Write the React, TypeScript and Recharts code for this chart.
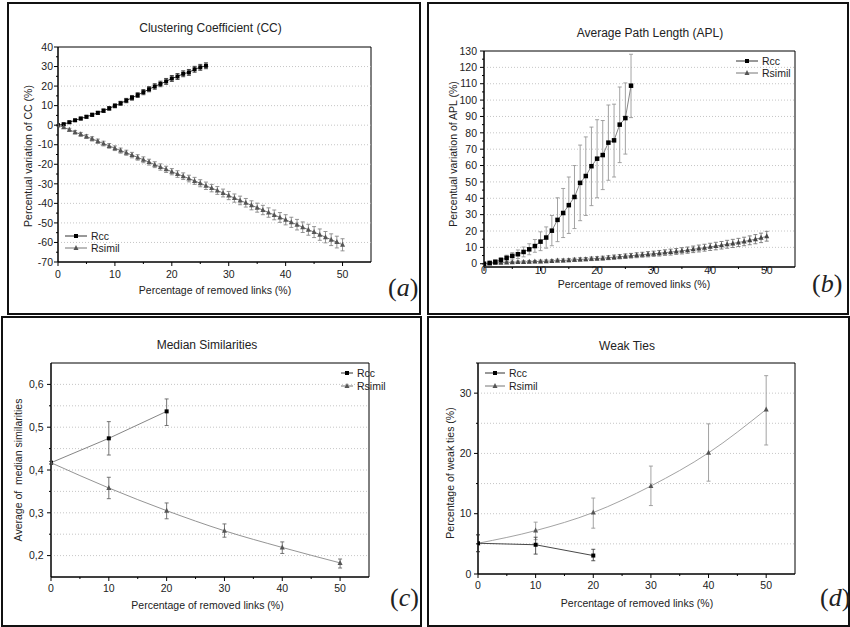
import React from 'react';
import { LineChart, Line, XAxis, YAxis, ErrorBar, ReferenceArea, ReferenceLine } from 'recharts';

// ---------- Panel (a): Clustering Coefficient ----------
const ccRccX = [0,1,2,3,4,5,6,7,8,9,10,11,12,13,14,15,16,17,18,19,20,21,22,23,24,25,26];
const ccRccY = [0,0.5,1.5,2.5,3.4,4.3,5.3,6.3,7.4,8.6,9.9,11.2,12.6,14.0,15.4,16.9,18.4,19.8,21.1,22.4,23.9,24.9,26.3,27.0,28.6,29.6,30.4];
const ccRccErr = [0.3,0.5,0.6,0.6,0.7,0.7,0.8,0.8,0.9,0.9,1.0,1.0,1.1,1.2,1.2,1.3,1.3,1.4,1.4,1.5,1.5,1.5,1.5,1.5,1.5,1.5,1.5];
const ccSimX = [0,1,2,3,4,5,6,7,8,9,10,11,12,13,14,15,16,17,18,19,20,21,22,23,24,25,26,27,28,29,30,31,32,33,34,35,36,37,38,39,40,41,42,43,44,45,46,47,48,49,50];
const ccSimY = [0,-1.0,-2.4,-3.6,-4.7,-5.8,-7.0,-8.2,-9.4,-10.6,-11.8,-13.0,-14.1,-15.3,-16.5,-17.7,-18.9,-20.2,-21.4,-22.6,-23.8,-25.0,-26.1,-27.3,-28.5,-29.7,-31.0,-32.2,-33.4,-34.7,-36.0,-37.3,-38.5,-39.7,-41.0,-42.2,-43.4,-44.7,-45.9,-47.2,-48.4,-49.7,-50.9,-52.2,-53.5,-54.7,-56.0,-57.3,-58.6,-59.8,-61.2];
const ccSimErr = [0.3,0.6,0.8,0.9,1.0,1.0,1.1,1.1,1.2,1.2,1.2,1.3,1.3,1.4,1.4,1.5,1.5,1.5,1.6,1.6,1.6,1.7,1.7,1.7,1.8,1.8,1.9,1.9,2.0,2.0,2.1,2.1,2.2,2.2,2.3,2.3,2.4,2.4,2.5,2.5,2.6,2.6,2.7,2.7,2.8,2.8,2.9,2.9,3.0,3.0,3.1];

// ---------- Panel (b): Average Path Length ----------
const aplRccX = [0,1,2,3,4,5,6,7,8,9,10,11,12,13,14,15,16,17,18,19,20,21,22,23,24,25,26];
const aplRccY = [0,0.5,1.2,2.3,3.6,4.8,5.8,7.2,8.8,10.8,13.5,16.0,20.2,26.8,31.0,35.8,40.8,49.4,53.6,59.6,64.2,66.4,74.0,75.4,85.0,89.0,108.8];
const aplRccLow = [0,0,0.3,1.0,2.0,2.8,3.2,4.2,5.5,7.0,8.0,9.5,11.0,13.5,16.0,18.5,21.5,26.3,29.5,35.5,40.3,45.3,51.0,53.0,61.8,67.0,89.3];
const aplRccHigh = [0,1.0,2.2,3.6,5.2,6.8,8.4,10.2,12.2,14.8,19.5,22.5,29.5,40.3,46.0,53.0,60.0,72.5,77.5,83.5,88.0,87.5,97.0,97.5,108.0,110.5,128.0];
const aplSimX = [0,1,2,3,4,5,6,7,8,9,10,11,12,13,14,15,16,17,18,19,20,21,22,23,24,25,26,27,28,29,30,31,32,33,34,35,36,37,38,39,40,41,42,43,44,45,46,47,48,49,50];
const aplSimY = [0,0.2,0.4,0.6,0.8,0.9,1.0,1.1,1.2,1.3,1.4,1.5,1.7,1.9,2.0,2.2,2.4,2.6,2.8,3.0,3.2,3.4,3.7,4.0,4.3,4.6,4.9,5.2,5.5,5.8,6.1,6.4,6.8,7.1,7.5,7.9,8.3,8.8,9.3,9.8,10.3,10.8,11.3,11.9,12.4,13.0,13.6,14.3,15.0,15.8,16.8];
const aplSimErr = [0.2,0.3,0.4,0.5,0.5,0.6,0.6,0.7,0.7,0.7,0.8,0.8,0.8,0.9,0.9,0.9,1.0,1.0,1.0,1.1,1.1,1.2,1.2,1.3,1.3,1.4,1.4,1.5,1.5,1.6,1.6,1.7,1.7,1.8,1.8,1.9,1.9,2.0,2.1,2.1,2.2,2.3,2.3,2.4,2.5,2.5,2.6,2.7,2.8,2.9,3.0];

// ---------- Panel (c): Median Similarities ----------
const msRccX = [0,10,20];
const msRccY = [0.417,0.474,0.537];
const msRccLow = [0.414,0.435,0.504];
const msRccHigh = [0.420,0.513,0.566];
const msSimX = [0,10,20,30,40,50];
const msSimY = [0.417,0.358,0.305,0.258,0.219,0.183];
const msSimLow = [0.414,0.333,0.286,0.243,0.205,0.171];
const msSimHigh = [0.420,0.383,0.323,0.274,0.232,0.192];

// ---------- Panel (d): Weak Ties ----------
const wtRccX = [0,10,20];
const wtRccY = [5.1,4.85,3.06];
const wtRccLow = [3.7,3.3,2.2];
const wtRccHigh = [6.5,6.1,4.1];
const wtSimX = [0,10,20,30,40,50];
const wtSimY = [5.1,7.2,10.2,14.6,20.1,27.3];
const wtSimLow = [3.7,5.7,7.6,11.35,15.4,21.4];
const wtSimHigh = [6.5,8.6,12.6,17.9,24.9,32.9];

// axis ticks
const xTicks = [0,5,10,15,20,25,30,35,40,45,50];
const ccYTicks = [-70,-65,-60,-55,-50,-45,-40,-35,-30,-25,-20,-15,-10,-5,0,5,10,15,20,25,30,35,40];
const aplYTicks = [0,5,10,15,20,25,30,35,40,45,50,55,60,65,70,75,80,85,90,95,100,105,110,115,120,125,130];
const msYTicks = [0.2,0.25,0.3,0.35,0.4,0.45,0.5,0.55,0.6];
const wtYTicks = [0,5,10,15,20,25,30,35];
const ccGrid = [-60,-50,-40,-30,-20,-10,0,10,20,30];
const aplGrid = [10,20,30,40,50,60,70,80,90,100,110,120];
const msGrid = [0.2,0.25,0.3,0.35,0.4,0.45,0.5,0.55,0.6];
const wtGrid = [5,10,15,20,25,30];

type Pt = { x: number; y: number; e: [number, number] };
const symm = (xs: number[], ys: number[], err: number[]): Pt[] =>
  xs.map((x, i) => ({ x, y: ys[i], e: [err[i], err[i]] }));
const asym = (xs: number[], ys: number[], lo: number[], hi: number[]): Pt[] =>
  xs.map((x, i) => ({ x, y: ys[i], e: [ys[i] - lo[i], hi[i] - ys[i]] }));

const FONT = '"Liberation Sans", Arial, Helvetica, sans-serif';
const TICK_FS = 10.5;

type Series = {
  key: string;
  data: Pt[];
  line: string;
  marker: 'sq' | 'tri';
  mFill: string;
  mSize: number;
  err: string;
  curve: 'linear' | 'monotone';
};

type Cfg = {
  plot: { x: number; y: number; w: number; h: number };
  xDomain: [number, number];
  yDomain: [number, number];
  yTicks: number[];
  yMajor: (v: number) => boolean;
  yFmt: (v: number) => string;
  grid: number[];
  series: Series[];
  xLabelDy: number;
  yLabelDx: number;
};

const Marker = ({ cx, cy, kind, s, fill }: any) => {
  if (cx == null || cy == null || isNaN(cx) || isNaN(cy)) return <g />;
  if (kind === 'sq') return <rect x={cx - s / 2} y={cy - s / 2} width={s} height={s} fill={fill} />;
  return (
    <polygon
      points={`${cx},${cy - s * 0.6} ${cx - s / 2},${cy + s * 0.4} ${cx + s / 2},${cy + s * 0.4}`}
      fill={fill}
    />
  );
};

const Panel = ({ cfg }: { cfg: Cfg }) => {
  const { plot } = cfg;
  const W = plot.w + 60;
  const H = plot.h + 40;
  const XTick = (p: any) => {
    const v = p.payload.value;
    const major = Math.round(v) % 10 === 0;
    return (
      <g>
        <line x1={p.x} x2={p.x} y1={p.y} y2={p.y + (major ? 4 : 2)} stroke="#000" strokeWidth={1} />
        {major && (
          <text x={p.x} y={p.y + cfg.xLabelDy} textAnchor="middle" fontSize={TICK_FS} fontFamily={FONT} fill="#222">
            {v}
          </text>
        )}
      </g>
    );
  };
  const YTick = (p: any) => {
    const v = p.payload.value;
    const major = cfg.yMajor(v);
    return (
      <g>
        <line x1={p.x - (major ? 4 : 2)} x2={p.x} y1={p.y} y2={p.y} stroke="#000" strokeWidth={1} />
        {major && (
          <text x={p.x - cfg.yLabelDx} y={p.y + 3.7} textAnchor="end" fontSize={TICK_FS} fontFamily={FONT} fill="#222">
            {cfg.yFmt(v)}
          </text>
        )}
      </g>
    );
  };
  return (
    <div style={{ position: 'absolute', left: plot.x - 50, top: plot.y - 10, width: W, height: H }}>
      <LineChart width={W} height={H} margin={{ top: 10, right: 10, bottom: 0, left: 0 }}>
        <XAxis
          type="number"
          dataKey="x"
          domain={cfg.xDomain}
          ticks={xTicks}
          interval={0}
          allowDataOverflow
          height={30}
          tickSize={0}
          tickMargin={0}
          tickLine={false}
          axisLine={{ stroke: '#000', strokeWidth: 1 }}
          tick={XTick}
        />
        <YAxis
          type="number"
          dataKey="y"
          domain={cfg.yDomain}
          ticks={cfg.yTicks}
          interval={0}
          allowDataOverflow
          width={50}
          tickSize={0}
          tickMargin={0}
          tickLine={false}
          axisLine={{ stroke: '#000', strokeWidth: 1 }}
          tick={YTick}
        />
        {cfg.grid.map((g) => (
          <ReferenceLine key={'g' + g} y={g} stroke="#b8b8b8" strokeWidth={0.8} strokeDasharray="1 2" />
        ))}
        <ReferenceArea
          x1={cfg.xDomain[0]}
          x2={cfg.xDomain[1]}
          y1={cfg.yDomain[0]}
          y2={cfg.yDomain[1]}
          fill="none"
          fillOpacity={0}
          stroke="#000"
          strokeWidth={1}
          ifOverflow="visible"
        />
        {cfg.series.map((s) => (
          <Line
            key={s.key}
            data={s.data}
            dataKey="y"
            type={s.curve}
            stroke={s.line}
            strokeWidth={0.9}
            isAnimationActive={false}
            activeDot={false}
            dot={(p: any) => (
              <Marker key={s.key + p.index} cx={p.cx} cy={p.cy} kind={s.marker} s={s.mSize} fill={s.mFill} />
            )}
          >
            <ErrorBar dataKey="e" width={2} stroke={s.err} strokeWidth={0.9} direction="y" isAnimationActive={false} />
          </Line>
        ))}
      </LineChart>
    </div>
  );
};

const intMajor = (v: number) => Math.round(v) % 10 === 0;

const cfgA: Cfg = {
  plot: { x: 58, y: 47, w: 313, h: 215 },
  xDomain: [0, 55],
  yDomain: [-70, 40],
  yTicks: ccYTicks,
  yMajor: intMajor,
  yFmt: (v) => String(v),
  grid: ccGrid,
  xLabelDy: 15.5,
  yLabelDx: 5,
  series: [
    { key: 'rcc', data: symm(ccRccX, ccRccY, ccRccErr), line: '#222', marker: 'sq', mFill: '#000', mSize: 4, err: '#333', curve: 'linear' },
    { key: 'sim', data: symm(ccSimX, ccSimY, ccSimErr), line: '#666', marker: 'tri', mFill: '#555', mSize: 5, err: '#888', curve: 'linear' },
  ],
};

const cfgB: Cfg = {
  plot: { x: 484, y: 51, w: 311, h: 216 },
  xDomain: [0, 55],
  yDomain: [-2, 130],
  yTicks: aplYTicks,
  yMajor: intMajor,
  yFmt: (v) => String(v),
  grid: aplGrid,
  xLabelDy: 7.2,
  yLabelDx: 7,
  series: [
    { key: 'sim', data: symm(aplSimX, aplSimY, aplSimErr), line: '#777', marker: 'tri', mFill: '#444', mSize: 5, err: '#777', curve: 'linear' },
    { key: 'rcc', data: asym(aplRccX, aplRccY, aplRccLow, aplRccHigh), line: '#777', marker: 'sq', mFill: '#000', mSize: 4.5, err: '#999', curve: 'linear' },
  ],
};

const cfgC: Cfg = {
  plot: { x: 51, y: 363, w: 318, h: 214 },
  xDomain: [0, 55],
  yDomain: [0.15, 0.65],
  yTicks: msYTicks,
  yMajor: (v) => Math.round(v * 100) % 10 === 0,
  yFmt: (v) => v.toFixed(1).replace('.', ','),
  grid: msGrid,
  xLabelDy: 15,
  yLabelDx: 7.4,
  series: [
    { key: 'rcc', data: asym(msRccX, msRccY, msRccLow, msRccHigh), line: '#777', marker: 'sq', mFill: '#000', mSize: 4, err: '#666', curve: 'linear' },
    { key: 'sim', data: asym(msSimX, msSimY, msSimLow, msSimHigh), line: '#888', marker: 'tri', mFill: '#555', mSize: 5, err: '#666', curve: 'monotone' },
  ],
};

const cfgD: Cfg = {
  plot: { x: 478, y: 363, w: 317, h: 211 },
  xDomain: [0, 55],
  yDomain: [0, 35],
  yTicks: wtYTicks,
  yMajor: intMajor,
  yFmt: (v) => String(v),
  grid: wtGrid,
  xLabelDy: 14.7,
  yLabelDx: 6.6,
  series: [
    { key: 'sim', data: asym(wtSimX, wtSimY, wtSimLow, wtSimHigh), line: '#999', marker: 'tri', mFill: '#555', mSize: 5, err: '#999', curve: 'monotone' },
    { key: 'rcc', data: asym(wtRccX, wtRccY, wtRccLow, wtRccHigh), line: '#333', marker: 'sq', mFill: '#000', mSize: 4, err: '#444', curve: 'linear' },
  ],
};

const LegendRow = ({ x1, x2, y, kind, lineColor, mFill, label }: any) => (
  <g>
    <line x1={x1} x2={x2} y1={y} y2={y} stroke={lineColor} strokeWidth={1} />
    <Marker cx={(x1 + x2) / 2} cy={y} kind={kind} s={kind === 'sq' ? 4 : 5} fill={mFill} />
    <text x={x2 + 4} y={y + 3.7} fontSize={10.5} fontFamily={FONT} fill="#222">
      {label}
    </text>
  </g>
);

const Legend2 = ({ x1, x2, y1, y2 }: any) => (
  <g>
    <LegendRow x1={x1} x2={x2} y={y1} kind="sq" lineColor="#333" mFill="#000" label="Rcc" />
    <LegendRow x1={x1} x2={x2} y={y2} kind="tri" lineColor="#777" mFill="#555" label="Rsimil" />
  </g>
);

const PanelLabel = ({ x, y, letter }: any) => (
  <text x={x} y={y} fontSize={26} fontFamily='"Liberation Serif", "Times New Roman", serif' fill="#222">
    (<tspan fontStyle="italic">{letter}</tspan>)
  </text>
);

const Title = ({ x, y, children }: any) => (
  <text x={x} y={y} textAnchor="middle" fontSize={12} fontFamily={FONT} fill="#222">
    {children}
  </text>
);
const XLabel = ({ x, y, children }: any) => (
  <text x={x} y={y} textAnchor="middle" fontSize={10.5} fontFamily={FONT} fill="#222">
    {children}
  </text>
);
const YLabel = ({ x, y, children }: any) => (
  <text
    x={x}
    y={y}
    dy="0.35em"
    textAnchor="middle"
    fontSize={10.5}
    fontFamily={FONT}
    fill="#222"
    transform={`rotate(-90, ${x}, ${y})`}
    style={{ whiteSpace: 'pre' }}
  >
    {children}
  </text>
);

const boxStyle = (l: number, t: number, w: number, h: number): React.CSSProperties => ({
  position: 'absolute',
  left: l,
  top: t,
  width: w,
  height: h,
  border: '2px solid #111',
  boxSizing: 'border-box',
});

export default function App() {
  return (
    <div style={{ position: 'absolute', left: 0, top: 0, width: 850, height: 627, background: '#fff', overflow: 'hidden' }}>
      <div style={boxStyle(7, 2, 414, 313)} />
      <div style={boxStyle(427, 2, 422, 313)} />
      <div style={boxStyle(1, 316, 421, 311)} />
      <div style={boxStyle(427, 316, 423, 311)} />
      <Panel cfg={cfgA} />
      <Panel cfg={cfgB} />
      <Panel cfg={cfgC} />
      <Panel cfg={cfgD} />
      <svg width={850} height={627} style={{ position: 'absolute', left: 0, top: 0, pointerEvents: 'none' }}>
        <Title x={210.5} y={32}>Clustering Coefficient (CC)</Title>
        <XLabel x={215} y={294}>Percentage of removed links (%)</XLabel>
        <YLabel x={28} y={156}>Percentual variation of CC (%)</YLabel>
        <Legend2 x1={65} x2={87} y1={236} y2={248} />
        <PanelLabel x={388} y={296} letter="a" />

        <Title x={650} y={37}>Average Path Length (APL)</Title>
        <XLabel x={634} y={287.5}>Percentage of removed links (%)</XLabel>
        <YLabel x={453} y={154}>Percentual variation of APL (%)</YLabel>
        <Legend2 x1={736} x2={758} y1={61} y2={73} />
        <PanelLabel x={812} y={292} letter="b" />

        <Title x={207} y={349}>Median Similarities</Title>
        <XLabel x={207.5} y={609}>Percentage of removed links (%)</XLabel>
        <YLabel x={18} y={470}>{'Average of  median similarities'}</YLabel>
        <Legend2 x1={341} x2={353} y1={373} y2={386} />
        <PanelLabel x={390} y={606} letter="c" />

        <Title x={627} y={350}>Weak Ties</Title>
        <XLabel x={637} y={606.5}>Percentage of removed links (%)</XLabel>
        <YLabel x={450} y={473}>Percentage of weak ties (%)</YLabel>
        <Legend2 x1={485} x2={505} y1={373} y2={386} />
        <PanelLabel x={820} y={606} letter="d" />
      </svg>
    </div>
  );
}
